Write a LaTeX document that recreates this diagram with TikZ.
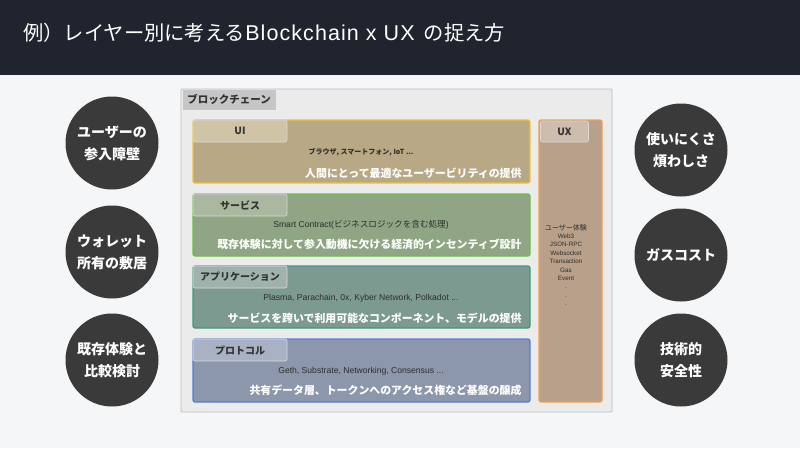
\documentclass[tikz,border=0pt]{standalone}
\usepackage{fontspec}
\setmainfont{Noto Sans CJK JP}
\newfontfamily\lat{Liberation Sans}
\newfontfamily\lattitle[LetterSpace=5]{Liberation Sans}
\definecolor{hdr}{HTML}{1F242E}
\definecolor{bgc}{HTML}{F5F6F8}
\definecolor{contfill}{HTML}{EBEBEB}
\definecolor{contdraw}{HTML}{BDBDBD}
\definecolor{conttab}{HTML}{C6C6C6}
\definecolor{uifill}{HTML}{B8A886}
\definecolor{uidraw}{HTML}{F2C233}
\definecolor{uitab}{HTML}{CFC4A6}
\definecolor{svfill}{HTML}{8FA583}
\definecolor{svdraw}{HTML}{6CC043}
\definecolor{svtab}{HTML}{A9B89F}
\definecolor{apfill}{HTML}{7D9A90}
\definecolor{apdraw}{HTML}{3A9A7E}
\definecolor{aptab}{HTML}{A0B2AC}
\definecolor{prfill}{HTML}{8D97AB}
\definecolor{prdraw}{HTML}{4F80D4}
\definecolor{prtab}{HTML}{A9B1C4}
\definecolor{uxfill}{HTML}{B8A08A}
\definecolor{uxdraw}{HTML}{F2A04C}
\definecolor{uxtab}{HTML}{CCBDAC}
\definecolor{circ}{HTML}{3A3A3A}
\definecolor{smalltxt}{HTML}{2E2E2E}
\begin{document}
\begin{tikzpicture}[x=1pt,y=-1pt,
  box/.style={rectangle,rounded corners=2pt,line width=1.2pt,inner sep=0pt},
  tab/.style={rectangle,rounded corners=2pt,draw=white!70!gray,line width=0.6pt,inner sep=0pt,minimum width=94pt,minimum height=22pt,font=\fontsize{10}{12}\selectfont\bfseries,text=black!80},
  small/.style={font=\fontsize{8.6}{10}\selectfont,text=smalltxt},
  big/.style={font=\fontsize{10.9}{12}\selectfont\bfseries,text=white,anchor=east},
  bubble/.style={circle,fill=circ,minimum size=93pt,inner sep=0pt,align=center,text=white,font=\fontsize{14}{22}\selectfont\bfseries}]
\useasboundingbox (0,0) rectangle (800,448);
\fill[bgc] (0,0) rectangle (800,448);
\fill[hdr] (0,0) rectangle (800,75);
\node[anchor=base west,text=white,font=\fontsize{20.3}{24}\selectfont,inner sep=0pt] (title) at (23,40) {例）レイヤー別に考える{\lattitle\fontsize{21.5}{24}\selectfont Blockchain x UX}\hspace{9pt}の捉え方};
% container
\node[box,fill=contfill,draw=contdraw,line width=0.8pt,rounded corners=1pt,minimum width=431pt,minimum height=323pt] (chain) at (396.5,250.5) {};
\node[rectangle,fill=conttab,inner sep=0pt,minimum width=93pt,minimum height=20pt,font=\fontsize{10.5}{12}\selectfont\bfseries,text=black!80] (chaintab) at (229,99.5) {ブロックチェーン};
% UI
\node[box,fill=uifill,draw=uidraw,minimum width=337pt,minimum height=63pt] (ui) at (361.5,151.5) {};
\node[tab,fill=uitab] (uitab) at (240,131) {UI};
\node[small,font=\fontsize{7}{9}\selectfont\bfseries] (uismall) at (361,152) {ブラウザ, スマートフォン, IoT ...};
\node[big] (uibig) at (525,173.5) {人間にとって最適なユーザービリティの提供};
% Service
\node[box,fill=svfill,draw=svdraw,minimum width=337pt,minimum height=62pt] (sv) at (361.5,225) {};
\node[tab,fill=svtab] (svtab) at (240,205) {サービス};
\node[small] (svsmall) at (361,224.5) {{\lat Smart Contract(}ビジネスロジックを含む処理{\lat )}};
\node[big] (svbig) at (525,244) {既存体験に対して参入動機に欠ける経済的インセンティブ設計};
% Application
\node[box,fill=apfill,draw=apdraw,minimum width=337pt,minimum height=62pt] (ap) at (361.5,297) {};
\node[tab,fill=aptab] (aptab) at (240,277) {アプリケーション};
\node[small,font=\fontsize{8.6}{10}\selectfont\lat] (apsmall) at (361,298.5) {Plasma, Parachain, 0x, Kyber Network, Polkadot ...};
\node[big] (apbig) at (525,318) {サービスを跨いで利用可能なコンポーネント、モデルの提供};
% Protocol
\node[box,fill=prfill,draw=prdraw,minimum width=337pt,minimum height=63pt] (pr) at (361.5,370.5) {};
\node[tab,fill=prtab] (prtab) at (240,350) {プロトコル};
\node[small,font=\fontsize{8.6}{10}\selectfont\lat] (prsmall) at (361,371) {Geth, Substrate, Networking, Consensus ...};
\node[big] (prbig) at (525,390.5) {共有データ層、トークンへのアクセス権など基盤の醸成};
% UX
\node[box,fill=uxfill,draw=uxdraw,minimum width=63pt,minimum height=282pt] (ux) at (570.5,261) {};
\node[tab,fill=uxtab,minimum width=48pt,minimum height=21pt] (uxtab) at (564.5,131.5) {UX};
\node[align=center,font=\fontsize{6.3}{8.4}\selectfont\lat,text=smalltxt,inner sep=0pt,anchor=north] (uxtxt) at (566,224) {{\fontsize{7}{8.4}\selectfont\rmfamily ユーザー体験}\\Web3\\JSON-RPC\\Websocket\\Transaction\\Gas\\Event\\.\\.\\.};
% bubbles
\node[bubble] (l1) at (112,143) {ユーザーの\\参入障壁};
\node[bubble] (l2) at (112,252) {ウォレット\\所有の敷居};
\node[bubble] (l3) at (112,360) {既存体験と\\比較検討};
\node[bubble] (r1) at (681,150) {使いにくさ\\煩わしさ};
\node[bubble] (r2) at (681,255) {ガスコスト};
\node[bubble] (r3) at (681,360) {技術的\\安全性};
\end{tikzpicture}
\end{document}
